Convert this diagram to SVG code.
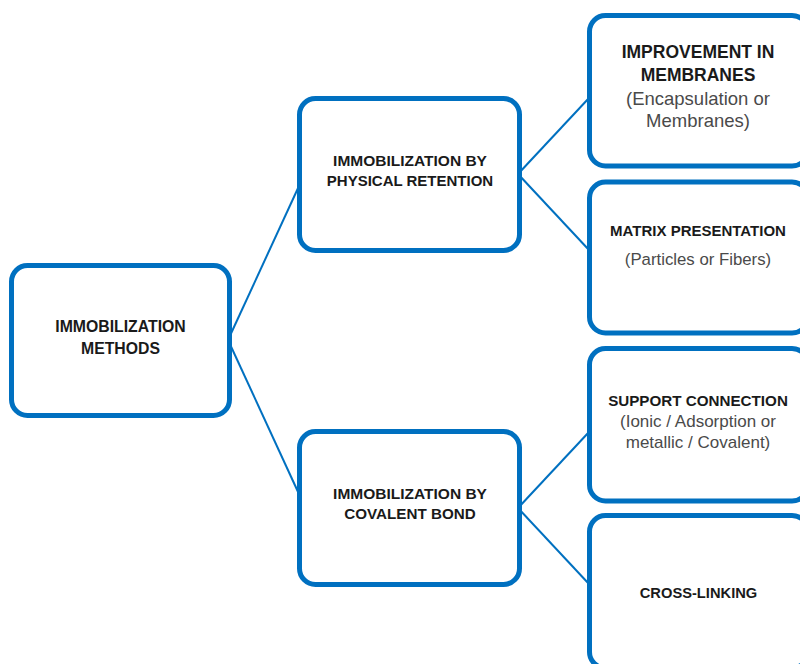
<svg xmlns="http://www.w3.org/2000/svg" width="800" height="664" viewBox="0 0 800 664">
<style>
.box{fill:#fff;stroke:#0070C0;stroke-width:5}
.con{stroke:#0070C0;stroke-width:2;fill:none}
.b{font-family:"Liberation Sans",Arial,sans-serif;font-weight:bold;fill:#1a1a1a;text-anchor:middle}
.n{font-family:"Liberation Sans",Arial,sans-serif;fill:#4a4a4a;text-anchor:middle}
</style>
<rect width="800" height="664" fill="#fff"/>
<g id="connectors">
<line class="con" x1="228" y1="340" x2="299" y2="186"/>
<line class="con" x1="228" y1="340" x2="299" y2="494"/>
<line class="con" x1="518" y1="174" x2="589" y2="98"/>
<line class="con" x1="518" y1="174" x2="589" y2="250"/>
<line class="con" x1="518" y1="508" x2="589" y2="432"/>
<line class="con" x1="518" y1="508" x2="589" y2="584"/>
</g>
<g id="root">
<rect class="box" x="11.5" y="265.5" width="218" height="150" rx="16"/>
<text class="b" x="120.5" y="332" font-size="15.8">IMMOBILIZATION</text>
<text class="b" x="120.5" y="354" font-size="15.8">METHODS</text>
</g>
<g id="physical">
<rect class="box" x="299.5" y="98.5" width="220" height="152" rx="16"/>
<text class="b" x="410" y="166" font-size="15.5">IMMOBILIZATION BY</text>
<text class="b" x="410" y="186" font-size="15">PHYSICAL RETENTION</text>
</g>
<g id="covalent">
<rect class="box" x="299.5" y="431.5" width="220" height="153" rx="16"/>
<text class="b" x="410" y="499" font-size="15.5">IMMOBILIZATION BY</text>
<text class="b" x="410" y="519" font-size="15.2">COVALENT BOND</text>
</g>
<g id="membranes">
<rect class="box" x="589.5" y="15.5" width="218.5" height="150.5" rx="16"/>
<text class="b" x="698" y="58" font-size="17.5">IMPROVEMENT IN</text>
<text class="b" x="698" y="81" font-size="17.5">MEMBRANES</text>
<text class="n" x="698" y="105" font-size="18.5">(Encapsulation or</text>
<text class="n" x="698" y="127" font-size="18.5">Membranes)</text>
</g>
<g id="matrix">
<rect class="box" x="589.5" y="182" width="218.5" height="151" rx="16"/>
<text class="b" x="698" y="236" font-size="15">MATRIX PRESENTATION</text>
<text class="n" x="698" y="265" font-size="16.8">(Particles or Fibers)</text>
</g>
<g id="support">
<rect class="box" x="589.5" y="348.5" width="218.5" height="152.5" rx="16"/>
<text class="b" x="698" y="406" font-size="15.2">SUPPORT CONNECTION</text>
<text class="n" x="698" y="427" font-size="17">(Ionic / Adsorption or</text>
<text class="n" x="698" y="448" font-size="17">metallic / Covalent)</text>
</g>
<g id="crosslinking">
<rect class="box" x="589.5" y="515.5" width="218.5" height="152.5" rx="16"/>
<text class="b" x="698.5" y="598" font-size="14.7" fill="#111">CROSS-LINKING</text>
</g>
</svg>
